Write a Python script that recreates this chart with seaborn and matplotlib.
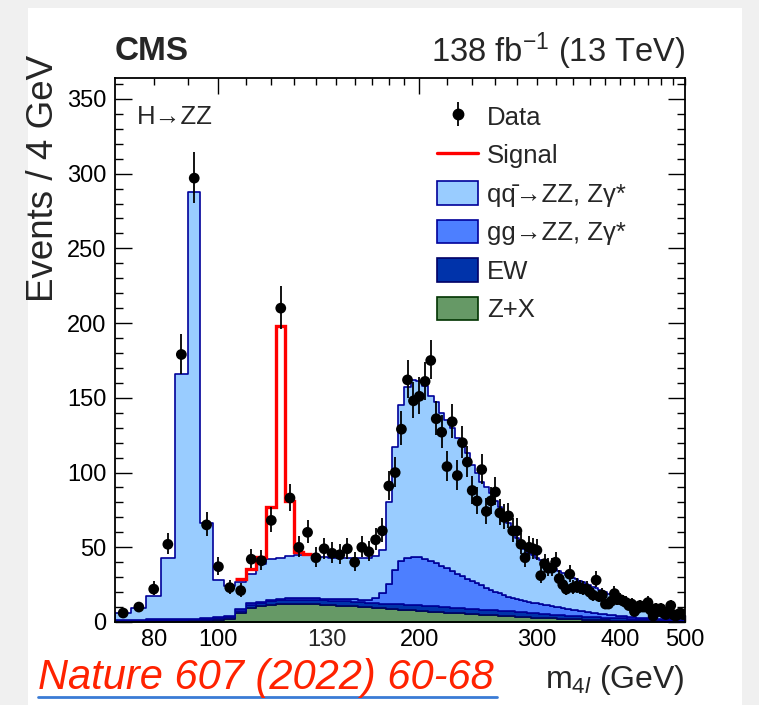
import numpy as np
import pandas as pd
import matplotlib
matplotlib.use("Agg")
import matplotlib.pyplot as plt
import seaborn as sns
from matplotlib.lines import Line2D
from matplotlib.patches import Patch, Rectangle
from matplotlib.legend_handler import HandlerTuple
from matplotlib.ticker import FixedLocator, FixedFormatter, MultipleLocator, NullFormatter

# 4 GeV bins, centres from 72 to 500 GeV
mass = np.arange(72, 501, 4)

data = [6, 10, 22, 52, 179, 297, 65, 37, 23, 21,
        42, 41, 68, 210, 83, 50, 60, 43, 49, 46,
        45, 49, 40, 50, 47, 55, 61, 91, 100, 129,
        162, 148, 151, 161, 175, 136, 127, 104, 134, 98,
        120, 107, 88, 81, 102, 74, 81, 87, 73, 70,
        71, 61, 61, 52, 43, 50, 49, 48, 31, 39,
        36, 36, 40, 29, 25, 22, 32, 23, 24, 23,
        22, 22, 20, 18, 28, 17, 18, 12, 12, 14,
        19, 15, 15, 14, 13, 11, 12, 7, 9, 11,
        10, 10, 13, 8, 4, 9, 7, 9, 6, 5,
        7, 11, 5, 4, 5, 6, 5, 5]

# total expected background (top of the stack)
bkg_total = [6.3, 9.6, 17.2, 42.6, 166, 288, 66, 28, 24, 27,
             32, 39, 42, 43, 44, 44.5, 44.5, 44, 43.5, 43,
             42.5, 42.5, 42.5, 42.5, 43, 44, 48, 80, 117, 145,
             157, 162, 161, 158, 151, 147, 140, 135, 130, 123,
             118, 113, 105, 100, 94, 90, 86, 81, 77, 71,
             66, 61, 56, 52, 49, 46.5, 44.5, 43, 41.5, 40,
             38.5, 37, 35.5, 34, 32.5, 31.5, 30.5, 29.5, 28.5, 27.5,
             26.5, 25.5, 24.5, 23.5, 22.5, 21.5, 20.8, 20, 19, 18.3,
             17.5, 16.7, 16, 15.3, 14.7, 14, 13.4, 12.8, 12.2, 11.6,
             11, 10.5, 10, 9.5, 9, 8.6, 8.2, 7.8, 7.4, 7,
             6.6, 6.2, 5.8, 5.4, 5, 4.7, 4.4, 4.1]

zx = [0.4, 0.5, 0.6, 0.7, 0.8, 0.9, 1.0, 1.6, 2.2, 6.0,
      9.5, 10.5, 11.4, 12.0, 12.2, 12.2, 12.0, 11.8, 11.5, 11.2,
      11.0, 10.7, 10.4, 10.1, 9.8, 9.5, 9.2, 9.0, 8.6, 8.3,
      8.0, 7.7, 7.4, 7.2, 7.0, 6.7, 6.5, 6.3, 6.1, 5.9,
      5.7, 5.5, 5.3, 5.1, 4.9, 4.7, 4.5, 4.4, 4.2, 4.0,
      3.9, 3.8, 3.6, 3.5, 3.3, 3.2, 3.0, 2.9, 2.8, 2.7,
      2.6, 2.5, 2.4, 2.3, 2.2, 2.1, 2.0, 1.9, 1.8, 1.7,
      1.6, 1.5, 1.5, 1.4, 1.3, 1.3, 1.2, 1.1, 1.1, 1.0,
      1.0, 0.9, 0.9, 0.8, 0.8, 0.7, 0.7, 0.7, 0.6, 0.6,
      0.6, 0.5, 0.5, 0.5, 0.5, 0.4, 0.4, 0.4, 0.4, 0.3,
      0.3, 0.3, 0.3, 0.3, 0.3, 0.2, 0.2, 0.2]

ew = [0.6, 0.6, 0.7, 0.7, 0.8, 0.8, 0.9, 1.0, 1.2, 1.6,
      2.0, 2.2, 2.4, 2.5, 2.6, 2.7, 2.8, 2.9, 3.0, 3.1,
      3.2, 3.2, 3.2, 3.2, 3.1, 3.0, 3.0, 3.0, 3.3, 3.5,
      3.7, 3.8, 3.8, 3.8, 3.8, 3.7, 3.7, 3.6, 3.6, 3.5,
      3.5, 3.5, 3.4, 3.4, 3.4, 3.4, 3.3, 3.3, 3.3, 3.3,
      3.3, 3.3, 3.3, 3.2, 3.2, 3.1, 3.0, 2.9, 2.8, 2.7,
      2.6, 2.5, 2.4, 2.3, 2.2, 2.2, 2.1, 2.1, 2.0, 2.0,
      2.0, 1.9, 1.9, 1.9, 1.8, 1.8, 1.8, 1.8, 1.8, 1.8,
      1.8, 1.7, 1.7, 1.7, 1.6, 1.6, 1.6, 1.5, 1.5, 1.5,
      1.5, 1.4, 1.4, 1.4, 1.3, 1.3, 1.3, 1.2, 1.2, 1.2,
      1.2, 1.1, 1.1, 1.1, 1.0, 1.0, 1.0, 1.0]

gg = [0.4, 0.4, 0.5, 0.5, 0.6, 0.6, 0.6, 0.7, 0.8, 0.9,
      1.0, 1.0, 1.1, 1.1, 1.1, 1.1, 1.2, 1.2, 1.2, 1.3,
      1.3, 1.4, 1.5, 1.7, 2.0, 3.8, 7.0, 13.2, 22.7, 29.0,
      30.9, 32.3, 32.3, 31.4, 30.0, 28.9, 27.3, 26.0, 24.5, 23.0,
      21.4, 19.8, 18.8, 17.4, 16.3, 14.9, 13.9, 12.6, 11.7, 10.8,
      9.8, 9.2, 8.7, 8.0, 7.5, 7.2, 7.0, 6.8, 6.6, 6.3,
      6.0, 5.8, 5.5, 5.3, 5.0, 4.7, 4.5, 4.2, 4.0, 3.8,
      3.5, 3.4, 3.1, 2.9, 2.8, 2.5, 2.4, 2.2, 2.0, 1.8,
      1.6, 1.6, 1.4, 1.3, 1.3, 1.2, 1.0, 1.0, 0.9, 0.8,
      0.7, 0.7, 0.6, 0.6, 0.6, 0.5, 0.5, 0.5, 0.5, 0.5,
      0.4, 0.4, 0.4, 0.4, 0.4, 0.3, 0.3, 0.3]

# Higgs signal on top of the background
sig_mass = [108, 112, 116, 120, 124, 128, 132, 136]
signal = [2, 3.5, 4.5, 35, 155, 37, 2.5, 1]

labels = ["qq\u0304\u2192ZZ, Z\u03b3*", "gg\u2192ZZ, Z\u03b3*", "EW", "Z+X"]
fills = ["#99ccff", "#4d7fff", "#0033aa", "#669966"]
edges_col = ["#000099", "#000099", "#000066", "#003300"]

xtick_major = [100, 200]
xtick_minor = [80, 90, 110, 120, 130, 140, 150, 160, 170, 180, 190,
               220, 240, 260, 280, 300, 320, 340, 360, 380, 400,
               420, 440, 460, 480, 500]
xtick_minor_labels = ["80", "", "", "", "", "", "", "", "", "", "",
                      "", "", "", "", "300", "", "", "", "", "400",
                      "", "", "", "", "500"]
# the "130" label sits off its tick in the original figure
label_130_pos = 145.2

sns.set_style("ticks")
plt.rcParams["font.family"] = ["Liberation Sans", "DejaVu Sans"]
plt.rcParams["mathtext.fontset"] = "custom"
plt.rcParams["mathtext.rm"] = "Liberation Sans"
plt.rcParams["mathtext.it"] = "Liberation Sans:italic"
plt.rcParams["mathtext.bf"] = "Liberation Sans:bold"

W, H = 759, 705
fig = plt.figure(figsize=(W / 100, H / 100), dpi=100)
fig.patch.set_facecolor("#f0f0f0")
fig.add_artist(Rectangle((28 / W, 0), (742 - 28) / W, (H - 8) / H,
                         transform=fig.transFigure, facecolor="white",
                         edgecolor="none", zorder=-10))
ax = fig.add_axes([115 / W, (H - 622) / H, 570 / W, 544 / H])

mass = np.asarray(mass)
edges = np.append(mass - 2, mass[-1] + 2)
bkg_total = np.asarray(bkg_total)
qq = np.clip(bkg_total - np.asarray(gg) - np.asarray(ew) - np.asarray(zx), 0, None)

df = pd.DataFrame({
    "m": np.tile(mass, 4),
    "events": np.concatenate([qq, gg, ew, zx]),
    "process": np.repeat(labels, len(mass)),
})
sns.histplot(df, x="m", weights="events", hue="process", hue_order=labels,
             multiple="stack", bins=list(np.log10(edges)), element="step",
             fill=True, alpha=1, palette=dict(zip(labels, fills)),
             log_scale=True, legend=False, linewidth=1.2, ax=ax)

# outline colour of each layer
fc_map = {matplotlib.colors.to_hex(c): e for c, e in zip(fills, edges_col)}
for coll in ax.collections:
    fc = matplotlib.colors.to_hex(coll.get_facecolor()[0])
    if fc in fc_map:
        coll.set_edgecolor(fc_map[fc])

# signal + background outline
idx = np.searchsorted(mass, sig_mass)
ax.stairs(bkg_total[idx] + np.asarray(signal), edges[idx[0]:idx[-1] + 2],
          baseline=None, color="#ff0000", lw=2.4, zorder=3)

# data with Poisson errors
data = np.asarray(data, dtype=float)
err = np.sqrt(data + 0.25)
ax.errorbar(mass, data, yerr=[err - 0.5, err + 0.5], fmt="none",
            ecolor="black", elinewidth=1.3, capsize=0, zorder=4)
sns.scatterplot(x=mass, y=data, color="black", s=60, edgecolor="none",
                ax=ax, zorder=5)

ax.set_xlim(70, 500)
ax.set_ylim(0, 364)
ax.set_xlabel("")
ax.set_ylabel("")
ax.xaxis.set_major_locator(FixedLocator(xtick_major))
ax.xaxis.set_major_formatter(FixedFormatter([str(v) for v in xtick_major]))
ax.xaxis.set_minor_locator(FixedLocator(xtick_minor))
ax.xaxis.set_minor_formatter(FixedFormatter(xtick_minor_labels))
ax.yaxis.set_major_locator(MultipleLocator(50))
ax.yaxis.set_minor_locator(MultipleLocator(10))
ax.yaxis.set_minor_formatter(NullFormatter())
ax.tick_params(axis="both", which="both", direction="in", top=True,
               right=True, colors="black", labelsize=17, width=1.0)
ax.tick_params(axis="y", which="major", length=12, pad=6)
ax.tick_params(axis="y", which="minor", length=6)
ax.tick_params(axis="x", which="major", length=11.5, pad=5)
ax.tick_params(axis="x", which="minor", length=5, pad=5)
for s in ax.spines.values():
    s.set_linewidth(1.3)
    s.set_color("black")
ax.annotate("130", xy=(label_130_pos, 0), xycoords=("data", "axes fraction"),
            xytext=(0, -5), textcoords="offset points", ha="center", va="top",
            fontsize=17)

# legend
data_h = (Line2D([], [], marker="o", ls="", color="black", ms=7.5),
          Line2D([], [], marker="|", ls="", color="black", ms=17, mew=1.3))
handles = [data_h, Line2D([], [], color="#ff0000", lw=2.4)]
for f, e in zip(fills, edges_col):
    handles.append(Patch(facecolor=f, edgecolor=e, lw=1.2))
ax.legend(handles, ["Data", "Signal"] + labels, loc="upper left",
          bbox_to_anchor=(437 / W, (H - 104) / H), bbox_transform=fig.transFigure,
          frameon=False, fontsize=18.5, handlelength=1.6, handleheight=1.05,
          handletextpad=0.35, labelspacing=0.5, borderpad=0, borderaxespad=0,
          handler_map={tuple: HandlerTuple(ndivide=1, pad=0)})

ax.text(137 / W, (H - 117) / H, "H\u2192ZZ", transform=fig.transFigure,
        fontsize=18.5, va="center", ha="left")

fig.text(115 / W, (H - 51) / H, "CMS", fontsize=24, fontweight="bold",
         va="center", ha="left")
fig.text(685 / W, (H - 51) / H, r"138 fb$^{-1}$ (13 TeV)", fontsize=23.5,
         va="center", ha="right")
fig.text(44 / W, (H - 55) / H, "Events / 4 GeV", fontsize=26.5, rotation=90,
         va="top", ha="center")
fig.text(685 / W, (H - 680) / H, r"m$_{4\mathit{l}}$ (GeV)", fontsize=23,
         va="center", ha="right")
fig.text(38 / W, (H - 678) / H, "Nature 607 (2022) 60-68", fontsize=30,
         style="italic", color="#ff2200", va="center", ha="left")
fig.add_artist(Line2D([38 / W, 497 / W], [(H - 697) / H] * 2,
                      transform=fig.transFigure, color="#3a7bd5", lw=2))

fig.savefig("out.png", dpi=100)
